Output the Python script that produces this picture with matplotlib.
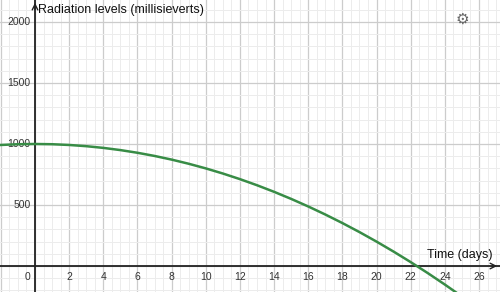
import matplotlib.pyplot as plt
from matplotlib.ticker import MultipleLocator

# values, one per day
time_days = [-2, -1, 0, 1, 2, 3, 4, 5, 6, 7, 8, 9, 10, 11, 12, 13,
             14, 15, 16, 17, 18, 19, 20, 21, 22, 23, 24, 25]
radiation = [992, 998, 1000, 998, 992, 982, 968, 950, 928, 902, 872, 838,
             800, 758, 712, 662, 608, 550, 488, 422, 352, 278, 200, 118,
             32, -58, -152, -250]

x_ticks = [2, 4, 6, 8, 10, 12, 14, 16, 18, 20, 22, 24, 26]
y_ticks = [500, 1000, 1500, 2000]

CURVE_COLOR = "#388c46"
AXIS_COLOR = "#222222"
TEXT_COLOR = "#333333"

plt.rcParams["font.family"] = ["Liberation Sans", "DejaVu Sans"]

fig = plt.figure(figsize=(5.0, 2.92), dpi=100)
ax = fig.add_axes([0, 0, 1, 1])

ax.set_xlim(-2.05, 27.23)
ax.set_ylim(-213, 2180)

# grid, desmos style
ax.xaxis.set_major_locator(MultipleLocator(2))
ax.xaxis.set_minor_locator(MultipleLocator(0.5))
ax.yaxis.set_major_locator(MultipleLocator(500))
ax.yaxis.set_minor_locator(MultipleLocator(100))
ax.grid(which="major", color="#cccccc", linewidth=0.9)
ax.grid(which="minor", color="#ececec", linewidth=0.7)
ax.set_axisbelow(True)
ax.tick_params(which="both", length=0, labelbottom=False, labelleft=False)
for s in ax.spines.values():
    s.set_visible(False)

# axes with arrows
ax.axhline(0, color=AXIS_COLOR, linewidth=1.3, zorder=2)
ax.axvline(0, color=AXIS_COLOR, linewidth=1.3, zorder=2)
ax.annotate("", xy=(27.23, 0), xytext=(26.6, 0),
            arrowprops=dict(arrowstyle="->", color=AXIS_COLOR, lw=1.0), zorder=3)
ax.annotate("", xy=(0, 2180), xytext=(0, 2080),
            arrowprops=dict(arrowstyle="->", color=AXIS_COLOR, lw=1.0), zorder=3)

# tick labels
for t in x_ticks:
    ax.text(t, -45, str(t), ha="center", va="top", fontsize=7.5, color=TEXT_COLOR)
ax.text(-0.45, -45, "0", ha="center", va="top", fontsize=7.5, color=TEXT_COLOR)
for t in y_ticks:
    ax.text(-0.25, t, str(t), ha="right", va="center", fontsize=7.5, color=TEXT_COLOR)

# axis titles
ax.text(0.2, 2145, "Radiation levels (millisieverts)", ha="left", va="top",
        fontsize=9, color="#111111")
ax.text(26.8, 40, "Time (days)", ha="right", va="bottom", fontsize=9, color="#111111")

# curve
ax.plot(time_days, radiation, color=CURVE_COLOR, linewidth=1.8, zorder=4,
        solid_joinstyle="round")

# settings gear
ax.text(25.0, 2020, "\u2699", ha="center", va="center", fontsize=11,
        color="#666666", family="DejaVu Sans")

fig.savefig("out.png", dpi=100)
